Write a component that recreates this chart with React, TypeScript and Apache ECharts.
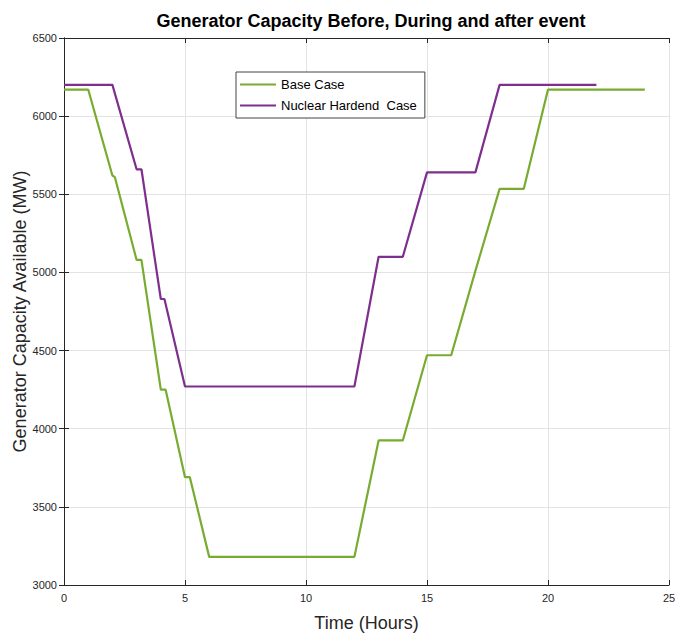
import React, { useEffect, useRef } from "react";
import * as echarts from "echarts";

const baseHours = [0, 1, 2, 2.1, 3, 3.2, 4, 4.2, 5, 5.2, 6, 12, 13, 14, 15, 16, 17, 18, 19, 20, 24];
const baseValues = [6170, 6170, 5620, 5610, 5080, 5080, 4250, 4250, 3690, 3690, 3180, 3180, 3925, 3925, 4470, 4470, 5010, 5535, 5535, 6170, 6170];
const nuclearHours = [0, 2, 3, 3.2, 4, 4.15, 5, 12, 13, 14, 15, 17, 18, 22];
const nuclearValues = [6200, 6200, 5660, 5660, 4830, 4830, 4270, 4270, 5100, 5100, 5640, 5640, 6200, 6200];
const seriesNames = ["Base Case", "Nuclear Hardend  Case"];
const seriesColors = ["#77AC30", "#7E2F8E"];

export default function App() {
  const ref = useRef<HTMLDivElement>(null);
  useEffect(() => {
    if (!ref.current) return;
    const chart = echarts.init(ref.current, undefined, { renderer: "svg" });
    const font = "Liberation Sans, Arial, sans-serif";
    const axisLine = { show: true, lineStyle: { color: "#262626", width: 1 } };
    chart.setOption({
      animation: false,
      backgroundColor: "#ffffff",
      title: {
        text: "Generator Capacity Before, During and after event",
        left: 366,
        textAlign: "center",
        top: 7,
        textStyle: { fontFamily: font, fontSize: 18, fontWeight: "bold", color: "#000" },
      },
      legend: {
        orient: "vertical",
        left: 236,
        top: 72,
        width: 190,
        padding: [6, 8, 6, 4],
        itemWidth: 36,
        itemHeight: 2,
        itemGap: 8,
        backgroundColor: "#fff",
        borderColor: "#444",
        borderWidth: 1,
        icon: "rect",
        textStyle: { fontFamily: font, fontSize: 13, color: "#000" },
        data: seriesNames,
      },
      grid: { left: 64, right: 6, top: 38, bottom: 49, containLabel: false, outerBoundsMode: "none" },
      xAxis: [
        {
          type: "value",
          min: 0,
          max: 25,
          interval: 5,
          name: "Time (Hours)",
          nameLocation: "middle",
          nameGap: 29,
          nameMoveOverlap: false,
          nameTextStyle: { fontFamily: font, fontSize: 18, color: "#262626" },
          axisLine,
          axisTick: { inside: true, length: 5, lineStyle: { color: "#262626" } },
          axisLabel: { fontFamily: font, fontSize: 11, color: "#262626", margin: 7 },
          splitLine: { show: true, lineStyle: { color: "#e3e3e3", width: 1 } },
        },
        {
          type: "value",
          position: "top",
          min: 0,
          max: 25,
          interval: 5,
          axisLine,
          axisTick: { inside: true, length: 5, lineStyle: { color: "#262626" } },
          axisLabel: { show: false },
          splitLine: { show: false },
        },
      ],
      yAxis: [
        {
          type: "value",
          min: 3000,
          max: 6500,
          interval: 500,
          name: "Generator Capacity Available (MW)",
          nameLocation: "middle",
          nameGap: 35,
          nameMoveOverlap: false,
          nameTextStyle: { fontFamily: font, fontSize: 18, color: "#262626" },
          axisLine,
          axisTick: { inside: true, length: 5, lineStyle: { color: "#262626" } },
          axisLabel: { fontFamily: font, fontSize: 11, color: "#262626", margin: 7, formatter: (v: number) => String(v) },
          splitLine: { show: true, lineStyle: { color: "#e3e3e3", width: 1 } },
        },
        {
          type: "value",
          position: "right",
          min: 3000,
          max: 6500,
          interval: 500,
          axisLine,
          axisTick: { inside: true, length: 5, lineStyle: { color: "#262626" } },
          axisLabel: { show: false },
          splitLine: { show: false },
        },
      ],
      series: [
        {
          name: seriesNames[0],
          type: "line",
          data: baseHours.map((h, i) => [h, baseValues[i]]),
          showSymbol: false,
          symbol: "none",
          color: seriesColors[0],
          lineStyle: { color: seriesColors[0], width: 2.2 },
        },
        {
          name: seriesNames[1],
          type: "line",
          data: nuclearHours.map((h, i) => [h, nuclearValues[i]]),
          showSymbol: false,
          symbol: "none",
          color: seriesColors[1],
          lineStyle: { color: seriesColors[1], width: 2.2 },
        },
      ],
    });
    return () => chart.dispose();
  }, []);
  return <div ref={ref} style={{ width: 675, height: 634, position: "absolute", left: 0, top: 0 }} />;
}
